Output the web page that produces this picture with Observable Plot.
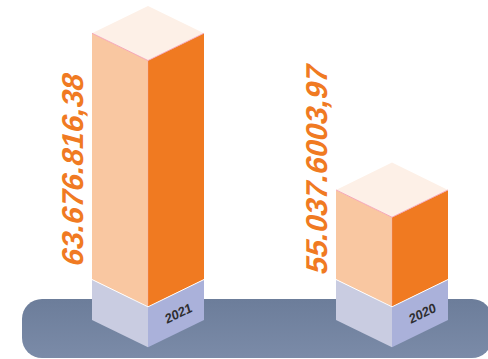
<!DOCTYPE html>
<html>
<head>
<meta charset="utf-8">
<script src="https://cdn.jsdelivr.net/npm/d3@7"></script>
<script src="https://cdn.jsdelivr.net/npm/@observablehq/plot@0.6"></script>
<style>
  html, body { margin: 0; padding: 0; background: #ffffff; }
  #chart svg { display: block; }
</style>
</head>
<body>
<div id="chart"></div>
<script>
// ---- data ----
const years = ["2021", "2020"];
const amounts = [63676816.38, 55037600.397];
const labels = ["63.676.816,38", "55.037.6003,97"];
const yDomain = [50100000, 65000000];

const data = years.map((year, i) => ({year, value: amounts[i], label: labels[i]}));

// ---- custom 3D scene drawn through Plot's scales ----
function scene(index, scales, values, dimensions) {
  const {x, y} = scales;
  const bw = typeof x.bandwidth === "function" ? x.bandwidth() : x.bandwidth;
  const half = bw / 2;
  const depth = half * Math.tan(26 * Math.PI / 180);
  const baseH = 40.5;
  const yB = y(yDomain[0]);
  const g = d3.create("svg:g");

  const defs = g.append("defs");
  const grad = defs.append("linearGradient").attr("id", "plat").attr("x1", 0).attr("y1", 0).attr("x2", 0).attr("y2", 1);
  grad.append("stop").attr("offset", "0%").attr("stop-color", "#6c7d9a");
  grad.append("stop").attr("offset", "100%").attr("stop-color", "#7b8ba8");

  const [r0] = x.range();
  const platTop = yB + 19.5;
  g.append("rect")
    .attr("x", r0 - 70)
    .attr("y", platTop)
    .attr("width", dimensions.width + 4 - (r0 - 70))
    .attr("height", dimensions.height - 1 - platTop)
    .attr("rx", 20).attr("ry", 20)
    .attr("fill", "url(#plat)");

  const poly = pts => "M" + pts.map(p => p.join(",")).join("L") + "Z";
  const line = pts => "M" + pts.map(p => p.join(",")).join("L");

  data.forEach(d => {
    const x0 = x(d.year), xc = x0 + half, x1 = x0 + bw;
    const yT = y(d.value);
    g.append("path").attr("d", poly([[x0, yB], [xc, yB + depth], [xc, yB + depth + baseH], [x0, yB + baseH]])).attr("fill", "#c9cce1");
    g.append("path").attr("d", poly([[xc, yB + depth], [x1, yB], [x1, yB + baseH], [xc, yB + depth + baseH]])).attr("fill", "#aab1da");
    g.append("path").attr("d", poly([[x0, yT], [xc, yT + depth], [xc, yB + depth], [x0, yB]])).attr("fill", "#f9c7a1");
    g.append("path").attr("d", poly([[xc, yT + depth], [x1, yT], [x1, yB], [xc, yB + depth]])).attr("fill", "#f07a21");
    g.append("path").attr("d", poly([[x0, yT], [xc, yT - depth], [x1, yT], [xc, yT + depth]])).attr("fill", "#fdf0e7");
    g.append("path").attr("d", line([[x0, yT], [xc, yT + depth], [x1, yT]])).attr("fill", "none").attr("stroke", "#f4a0b6").attr("stroke-width", 0.9);
    g.append("path").attr("d", line([[xc, yT + depth], [xc, yB + depth]])).attr("fill", "none").attr("stroke", "#f4a0b6").attr("stroke-width", 0.6).attr("stroke-opacity", 0.5);
    g.append("path").attr("d", line([[x0, yB], [xc, yB + depth], [x1, yB]])).attr("fill", "none").attr("stroke", "#ffffff").attr("stroke-width", 1);
  });
  return g.node();
}

const chart = Plot.plot({
  width: 488,
  height: 359,
  margin: 0,
  style: {background: "#ffffff", overflow: "visible"},
  x: {domain: years, range: [92, 448], paddingInner: 0.541, paddingOuter: 0, axis: null},
  y: {domain: yDomain, range: [279.5, 9.2], axis: null},
  marks: [
    Plot.barY(data, {x: "year", y: "value", fill: "none", stroke: "none"}),
    scene,
    Plot.text(data, {
      x: "year", text: "label", frameAnchor: "middle",
      rotate: -90, dx: -75, dy: -11,
      fontSize: 30, fontWeight: "bold",
      fontFamily: "Liberation Sans, Arial, sans-serif",
      fill: "#f07a22"
    }),
    Plot.text(data, {
      x: "year", y: () => yDomain[0], text: "year",
      rotate: -26, dx: 30, dy: 33.5,
      fontSize: 13, fontWeight: "bold",
      fontFamily: "Liberation Sans, Arial, sans-serif",
      fill: "#2d2d2f"
    })
  ]
});

// italic slant via skew (styling only)
d3.select(chart).selectAll("text").each(function() {
  const t = this.getAttribute("transform");
  if (t && /rotate\(-90\)/.test(t)) this.setAttribute("transform", t + " skewX(-15)");
  else if (t && /rotate\(-26\)/.test(t)) this.setAttribute("transform", t + " skewX(-10)");
});

document.getElementById("chart").appendChild(chart);
</script>
</body>
</html>
